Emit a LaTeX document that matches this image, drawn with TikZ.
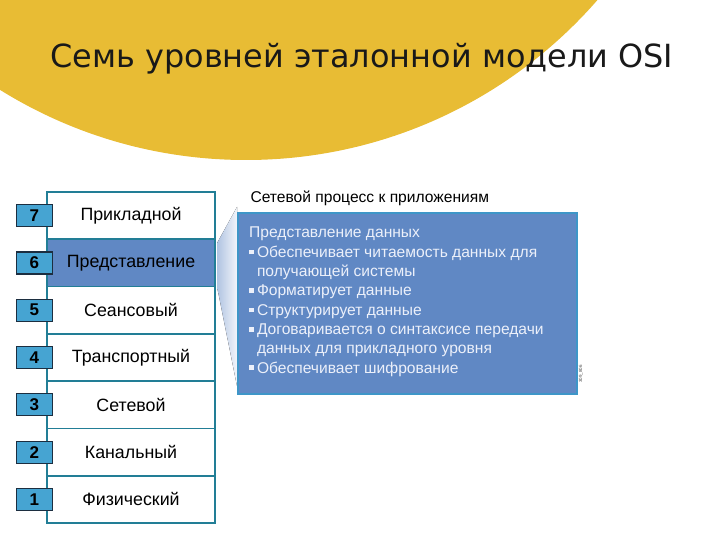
\documentclass[tikz,border=0pt]{standalone}
\usepackage{fontspec}
\setmainfont{Liberation Sans}
\newfontfamily\titlefont{DejaVu Sans}
\usetikzlibrary{positioning}

\definecolor{osiyellow}{RGB}{232,188,52}
\definecolor{ositeal}{RGB}{34,126,150}
\definecolor{osinum}{RGB}{70,164,210}
\definecolor{osidark}{RGB}{28,46,64}
\definecolor{osiblue}{RGB}{96,136,196}
\definecolor{osiframe}{RGB}{62,150,200}
\definecolor{ositext}{RGB}{236,240,250}

\tikzset{
    layerplain/.style={draw=ositeal, line width=1.6pt, outer sep=0pt,
        minimum width=168pt, minimum height=47.3pt,
        font=\fontsize{17.8}{19}\selectfont},
    layersel/.style={layerplain, fill=osiblue},
    numbox/.style={draw=osidark, fill=osinum, line width=1.2pt, inner sep=0pt,
        minimum width=36pt, minimum height=22pt,
        font=\bfseries\fontsize{17}{17}\selectfont}
}
\newcommand{\sqbul}{\rule[2.8pt]{4.8pt}{4.8pt}\hspace{3pt}}

\begin{document}
\begin{tikzpicture}[x=1pt, y=-1pt]
    \useasboundingbox (0,0) rectangle (720,540);

    % Yellow disc in the top left corner
    \begin{scope}
        \clip (0,0) rectangle (720,540);
        \fill[osiyellow] (246,-306) circle[radius=466pt];
    \end{scope}

    \node[anchor=base, text=black!90] (title) at (362,68)
        {\titlefont\fontsize{31.9}{32}\selectfont Семь уровней эталонной модели OSI};

    % Layer stack
    \node[layerplain] (lay7) at (131,215.6) {Прикладной};
    \foreach \n/\prev/\name/\sty in {6/7/Представление/layersel, 5/6/Сеансовый/layerplain,
            4/5/Транспортный/layerplain, 3/4/Сетевой/layerplain,
            2/3/Канальный/layerplain, 1/2/Физический/layerplain}
        \node[\sty, below=0pt of lay\prev] (lay\n) {\name};

    % Callout wedge from layer 6 to the info box
    \coordinate (boxnw) at (237,212);
    \fill[left color=osiblue!50, right color=osiblue!8] ([xshift=2pt, yshift=-4pt]lay6.north east)
        -- ([yshift=5pt]boxnw) -- (boxnw |- 0,386) -- ([xshift=2pt]lay6.south east) -- cycle;

    \draw[ositeal, line width=2.2pt] (lay7.north west) rectangle (lay1.south east);

    % Layer numbers
    \foreach \n in {7,6,...,1}
        \node[numbox, anchor=east] (num\n) at ([xshift=6pt]lay\n.west) {\n};

    % Info box
    \node[anchor=west, font=\fontsize{15.6}{17}\selectfont] (proc) at (247,198)
        {Сетевой процесс к приложениям};
    \node[draw=osiframe, fill=osiblue, line width=2.2pt, anchor=north west, inner sep=0pt,
        minimum width=339pt, minimum height=181pt] (info) at (boxnw) {};
    \node[anchor=north west, align=left, inner sep=0pt, text=ositext,
        font=\fontsize{15.6}{19.3}\selectfont] (infotext) at (249,227)
        {Представление данных\\
         \sqbul Обеспечивает читаемость данных для\\
         \hspace{7.8pt}получающей системы\\
         \sqbul Форматирует данные\\
         \sqbul Структурирует данные\\
         \sqbul Договаривается о синтаксисе передачи\\
         \hspace{7.8pt}данных для прикладного уровня\\
         \sqbul Обеспечивает шифрование};

    \node[rotate=90, font=\fontsize{4.5}{5}\selectfont, text=black!70] (figid)
        at (581,374) {309\_806};
\end{tikzpicture}
\end{document}
